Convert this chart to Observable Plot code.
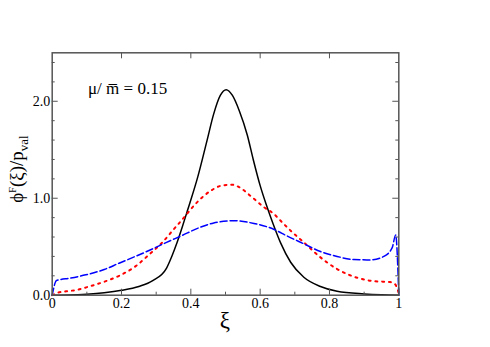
<!DOCTYPE html>
<html>
<head>
<meta charset="utf-8">
<script src="https://cdn.jsdelivr.net/npm/d3@7"></script>
<script src="https://cdn.jsdelivr.net/npm/@observablehq/plot@0.6"></script>
<style>
  html, body { margin: 0; padding: 0; background: #fff; }
  #chart svg, #chart svg text, #chart svg tspan { font-family: "Liberation Serif", "Times New Roman", serif !important; }
</style>
</head>
<body>
<div id="chart"></div>
<script>
// Solid black curve
const blackX = [0, 0.05, 0.1, 0.15, 0.2, 0.25, 0.29, 0.33, 0.345, 0.36, 0.375, 0.39, 0.42, 0.447, 0.466, 0.485, 0.502, 0.52, 0.54, 0.563, 0.58, 0.6, 0.618, 0.638, 0.659, 0.688, 0.726, 0.774, 0.822, 0.9, 0.95, 1];
const blackY = [0, 0.002, 0.01, 0.025, 0.05, 0.09, 0.15, 0.28, 0.40, 0.54, 0.70, 0.87, 1.22, 1.6, 1.87, 2.06, 2.12, 2.06, 1.9, 1.65, 1.4, 1.13, 0.93, 0.73, 0.54, 0.34, 0.185, 0.09, 0.04, 0.013, 0.004, 0];
// Red dotted curve
const redX = [0, 0.015, 0.04, 0.072, 0.107, 0.155, 0.193, 0.241, 0.28, 0.318, 0.347, 0.38, 0.413, 0.457, 0.486, 0.519, 0.538, 0.572, 0.61, 0.639, 0.664, 0.688, 0.726, 0.774, 0.822, 0.88, 0.928, 0.976, 0.99, 1];
const redY = [0, 0.024, 0.04, 0.055, 0.09, 0.145, 0.2, 0.30, 0.42, 0.545, 0.665, 0.80, 0.94, 1.076, 1.127, 1.14, 1.117, 1.025, 0.91, 0.84, 0.75, 0.665, 0.545, 0.39, 0.27, 0.18, 0.145, 0.135, 0.11, 0.02];
// Blue dashed curve
const blueX = [0, 0.012, 0.02, 0.05, 0.097, 0.15, 0.193, 0.24, 0.289, 0.33, 0.371, 0.427, 0.466, 0.524, 0.582, 0.639, 0.678, 0.726, 0.774, 0.822, 0.87, 0.918, 0.957, 0.981, 0.991, 1];
const blueY = [0, 0.15, 0.158, 0.175, 0.21, 0.265, 0.33, 0.40, 0.477, 0.545, 0.61, 0.70, 0.745, 0.768, 0.74, 0.68, 0.61, 0.53, 0.45, 0.40, 0.367, 0.364, 0.40, 0.49, 0.62, 0];

// Axis ticks and labels
const xMajor = [0, 0.2, 0.4, 0.6, 0.8, 1];
const xLabels = ["0", "0.2", "0.4", "0.6", "0.8", "1"];
const xMinor = [0.1, 0.3, 0.5, 0.7, 0.9];
const xTop = [0.2, 0.4, 0.6, 0.8];
const yMajor = [0, 1, 2];
const yLabels = ["0.0", "1.0", "2.0"];
const yMinor = [0.2, 0.4, 0.6, 0.8, 1.2, 1.4, 1.6, 1.8, 2.2, 2.4];
const xDomain = [0, 1];
const yDomain = [0, 2.5];

const W = 490, H = 347;
const mL = 51.7, mR = 91.7, mT = 52.3, mB = 52.3;
const pW = W - mL - mR, pH = H - mT - mB;
const axisColor = "#555";
const serif = "Liberation Serif";

const toPts = (xs, ys) => xs.map((x, i) => ({x, y: ys[i]}));

const chart = Plot.plot({
  width: W, height: H,
  marginLeft: mL, marginRight: mR, marginTop: mT, marginBottom: mB,
  style: {fontFamily: serif, fontSize: "14px", color: "#000", background: "#fff"},
  x: {domain: xDomain, axis: null},
  y: {domain: yDomain, axis: null},
  marks: [
    Plot.line(toPts(blackX, blackY), {x: "x", y: "y", stroke: "#000", strokeWidth: 1.5, curve: "monotone-x"}),
    Plot.line(toPts(redX, redY), {x: "x", y: "y", stroke: "#ff0000", strokeWidth: 2, strokeDasharray: "2,4.8", curve: "monotone-x"}),
    Plot.line(toPts(blueX, blueY), {x: "x", y: "y", stroke: "#0000ff", strokeWidth: 1.5, strokeDasharray: "7,3", curve: "monotone-x"}),
    // inward ticks
    Plot.tickX(xMajor, {x: d => d, insetTop: pH - 6, stroke: axisColor}),
    Plot.tickX(xMinor, {x: d => d, insetTop: pH - 3, stroke: axisColor}),
    Plot.tickX(xTop, {x: d => d, insetBottom: pH - 6, stroke: axisColor}),
    Plot.tickY(yMajor, {y: d => d, insetRight: pW - 6, stroke: axisColor}),
    Plot.tickY(yMinor, {y: d => d, insetRight: pW - 3, stroke: axisColor}),
    Plot.tickY(yMajor, {y: d => d, insetLeft: pW - 6, stroke: axisColor}),
    Plot.tickY(yMinor, {y: d => d, insetLeft: pW - 3, stroke: axisColor}),
    Plot.axisX(xMajor, {tickSize: 0, tickPadding: 3, tickFormat: d => xLabels[xMajor.indexOf(d)], label: null, fontSize: 14}),
    Plot.axisY(yMajor, {tickSize: 0, tickPadding: 2, tickFormat: d => yLabels[yMajor.indexOf(d)], label: null, fontSize: 14}),
    Plot.frame({stroke: axisColor, strokeWidth: 1.5})
  ]
});

document.getElementById("chart").appendChild(chart);

// Text with super/subscripts and overline
const svg = d3.select(chart);

const yl = svg.append("text")
  .attr("transform", "translate(23,169) rotate(-90)")
  .attr("text-anchor", "middle")
  .attr("font-family", serif)
  .attr("font-size", 19)
  .attr("fill", "#000");
yl.append("tspan").text("ϕ");
yl.append("tspan").attr("font-size", 10).attr("dy", -7).text("F");
yl.append("tspan").attr("dy", 7).text("(ξ)/p");
yl.append("tspan").attr("font-size", 13).attr("dy", 5).text("val");

svg.append("text")
  .attr("x", mL + pW / 2)
  .attr("y", H - 19)
  .attr("text-anchor", "middle")
  .attr("font-family", serif)
  .attr("font-size", 23)
  .attr("fill", "#000")
  .text("ξ");

const ann = svg.append("text")
  .attr("x", 88)
  .attr("y", 94)
  .attr("text-anchor", "start")
  .attr("font-family", serif)
  .attr("font-size", 17)
  .attr("fill", "#000");
ann.append("tspan").text("μ/ m\u0305 = 0.15");
</script>
</body>
</html>
